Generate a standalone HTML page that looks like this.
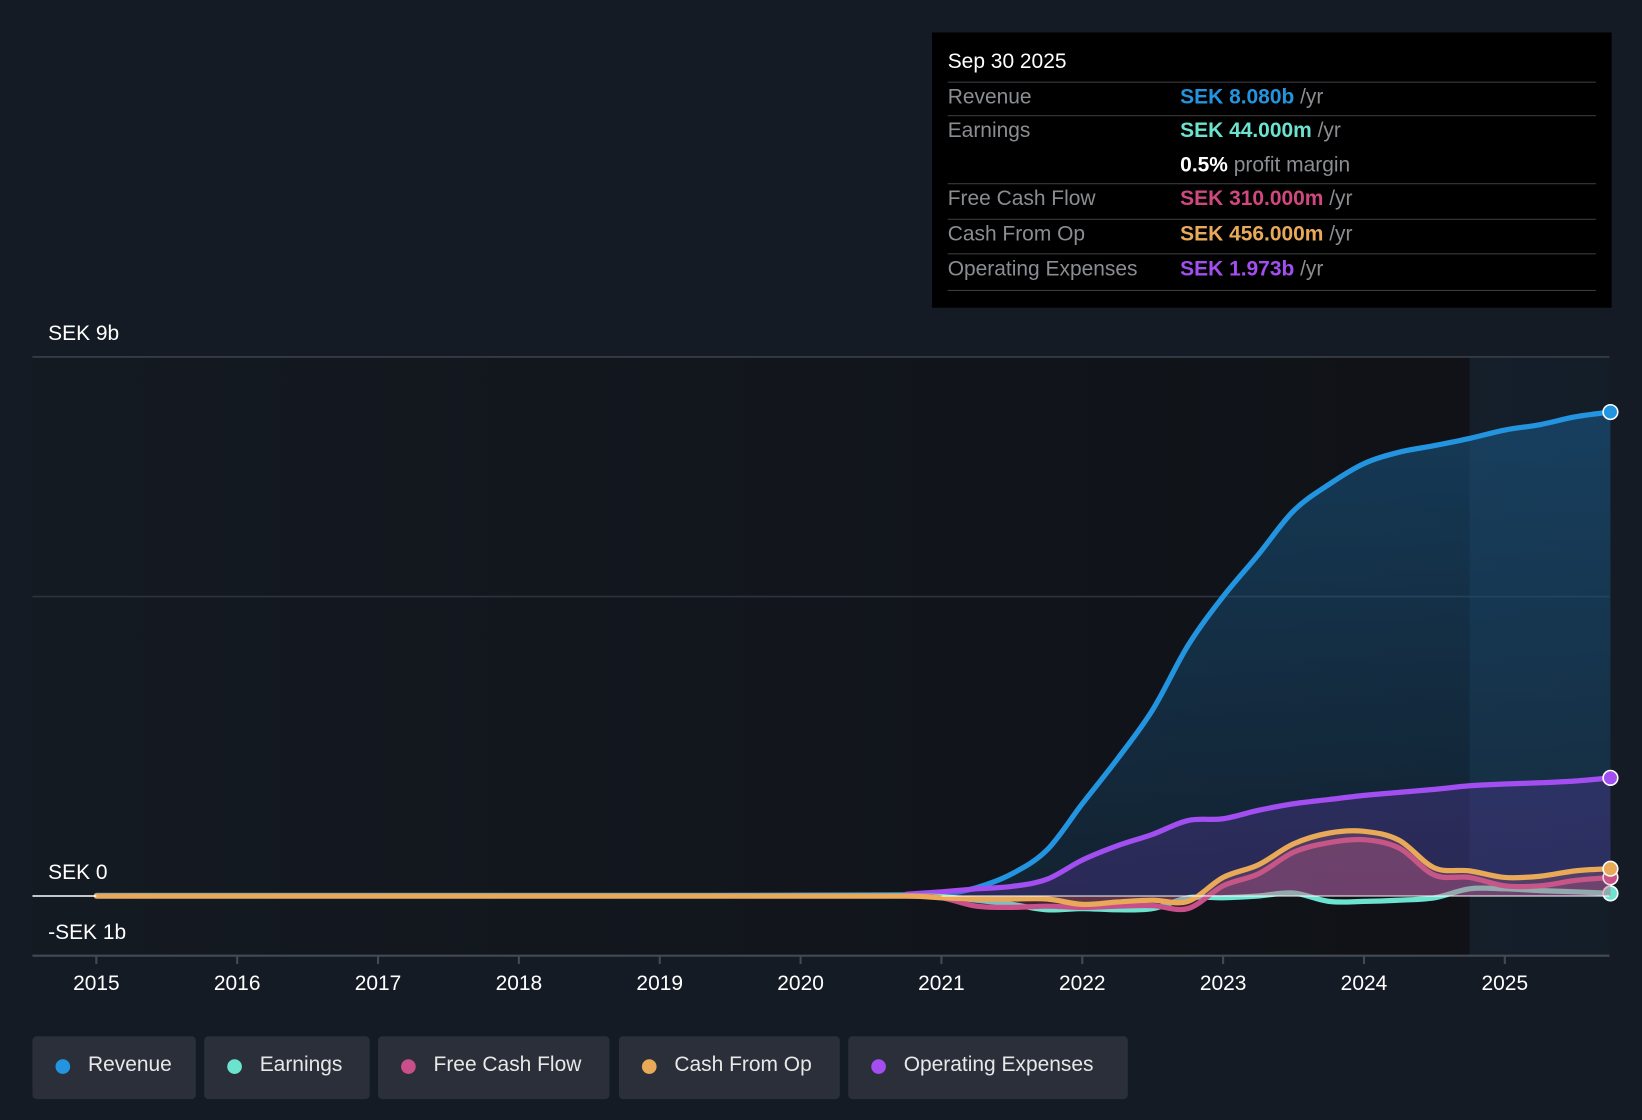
<!DOCTYPE html>
<html><head><meta charset="utf-8"><style>
html,body{margin:0;padding:0;background:#151b24;overflow:hidden}
#root{position:absolute;left:0;top:0;width:1568px;height:1070px;transform:scale(1.04719,1.04673);transform-origin:0 0;font-family:"Liberation Sans",sans-serif;background:#151b24}
.tt{position:absolute;left:890px;top:31px;width:649px;height:263px;background:#000}
.tt .d{position:absolute;left:15px;top:17px;color:#fff;font-size:20px}
.row{position:absolute;left:15px;width:619px;border-top:1.5px solid #3a3d42;height:32px;font-size:20px}
.row .l{position:absolute;left:0;top:3px;color:#8a8d91}
.row .v{position:absolute;left:222px;top:3px;color:#8a8d91}
.leg{position:absolute;top:990px;height:60px;background:#2a2f39;border-radius:4px;color:#e8e8e8;font-size:20px}
.leg .dot{position:absolute;left:22px;top:22px;width:14px;height:14px;border-radius:50%}
.leg span.t{position:absolute;left:53px;top:16px}
</style></head><body>
<div id="root">
<svg id="chart" width="1568" height="1070" style="position:absolute;left:0;top:0"></svg>
<div class="tt">
 <div class="d">Sep 30 2025</div>
 <div class="row" style="top:47px"><span class="l">Revenue</span><span class="v"><b style="color:#2394df;font-weight:600">SEK 8.080b</b> /yr</span></div>
 <div class="row" style="top:79px"><span class="l">Earnings</span><span class="v"><b style="color:#6ce3cf;font-weight:600">SEK 44.000m</b> /yr</span><span class="v" style="top:36px"><b style="color:#fff;font-weight:600">0.5%</b> profit margin</span></div>
 <div class="row" style="top:144px"><span class="l">Free Cash Flow</span><span class="v"><b style="color:#d0487f;font-weight:600">SEK 310.000m</b> /yr</span></div>
 <div class="row" style="top:178px"><span class="l">Cash From Op</span><span class="v"><b style="color:#e8a958;font-weight:600">SEK 456.000m</b> /yr</span></div>
 <div class="row" style="top:211px;height:34px;border-bottom:1.5px solid #3a3d42"><span class="l">Operating Expenses</span><span class="v"><b style="color:#a24ef0;font-weight:600">SEK 1.973b</b> /yr</span></div>
</div>
<div class="leg" style="left:31px;width:156px"><div class="dot" style="background:#2394df"></div><span class="t">Revenue</span></div>
<div class="leg" style="left:195px;width:158px"><div class="dot" style="background:#6ce3cf"></div><span class="t">Earnings</span></div>
<div class="leg" style="left:361px;width:221px"><div class="dot" style="background:#c94f8a"></div><span class="t">Free Cash Flow</span></div>
<div class="leg" style="left:591px;width:211px"><div class="dot" style="background:#e8a958"></div><span class="t">Cash From Op</span></div>
<div class="leg" style="left:810px;width:267px"><div class="dot" style="background:#a24ef0"></div><span class="t">Operating Expenses</span></div>
</div>
<script>
const years=[2015,2016,2017,2018,2019,2020,2020.75,2021,2021.25,2021.5,2021.75,2022,2022.25,2022.5,2022.75,2023,2023.25,2023.5,2023.75,2024,2024.25,2024.5,2024.75,2025,2025.25,2025.5,2025.75];
const revenue=[0.01,0.01,0.01,0.01,0.01,0.015,0.02,0.02,0.14,0.37,0.77,1.54,2.29,3.11,4.18,5.0,5.7,6.43,6.87,7.22,7.41,7.52,7.64,7.78,7.87,8.0,8.08];
const earnings=[0,0,0,0,0,0,0,-0.01,-0.07,-0.14,-0.23,-0.21,-0.23,-0.21,-0.03,-0.03,0,0.05,-0.09,-0.09,-0.07,-0.03,0.12,0.12,0.09,0.07,0.044];
const fcf=[0,0,0,0,0,0,0,-0.03,-0.17,-0.19,-0.17,-0.19,-0.17,-0.16,-0.21,0.17,0.37,0.73,0.89,0.94,0.8,0.35,0.31,0.17,0.17,0.26,0.31];
const cfo=[0,0,0,0,0,0,0,-0.03,-0.05,-0.05,-0.05,-0.14,-0.1,-0.07,-0.09,0.31,0.52,0.87,1.05,1.08,0.93,0.47,0.42,0.31,0.33,0.42,0.456];
const opexYears=years.slice(6);
const opex=[0.03,0.07,0.12,0.16,0.28,0.6,0.84,1.03,1.26,1.29,1.43,1.54,1.61,1.68,1.73,1.78,1.84,1.87,1.89,1.92,1.973];
const xTicks=[2015,2016,2017,2018,2019,2020,2021,2022,2023,2024,2025];
const yTickVals=[9,0,-1];
const yTickLabels=["SEK 9b","SEK 0","-SEK 1b"];
const gridVals=[9,5];
const NS="http://www.w3.org/2000/svg";
const svg=document.getElementById('chart');
const X=v=>92+(v-2015)*134.5;
const Y=v=>856-v*57.22;
function el(t,a,p){const e=document.createElementNS(NS,t);for(const k in a)e.setAttribute(k,a[k]);(p||svg).appendChild(e);return e;}
svg.innerHTML='<defs><linearGradient id="past" x1="0" x2="1"><stop offset="0" stop-color="#141a22"/><stop offset="1" stop-color="#0f1116"/></linearGradient><linearGradient id="rg" x1="0" y1="0" x2="0" y2="1"><stop offset="0" stop-color="#1a5a8a" stop-opacity="0.55"/><stop offset="1" stop-color="#1a5a8a" stop-opacity="0.2"/></linearGradient></defs>';
const bg=el('rect',{x:31,y:341,width:1506,height:572,fill:'url(#past)'});

const fc=el('rect',{x:X(2024.75),y:341,width:1537-X(2024.75),height:572,fill:'#1a2a3b',opacity:0.55});

gridVals.forEach(v=>{
 const g=el('line',{x1:31,x2:1537,y1:Y(v),y2:Y(v),stroke:v===9?'#3a3f48':'#2e333b','stroke-width':1.5});
 
});
yTickVals.forEach((v,i)=>{
 const t=el('text',{x:46,y:Y(v)-16,fill:'#fff','font-size':20,'font-family':'Liberation Sans, sans-serif'});
 t.textContent=yTickLabels[i];
 
});
const ax=el('line',{x1:31,x2:1537,y1:913,y2:913,stroke:'#444a53','stroke-width':2});

xTicks.forEach(v=>{
 const tk=el('line',{x1:X(v),x2:X(v),y1:913,y2:921,stroke:'#444a53','stroke-width':2});
 
 const t=el('text',{x:X(v),y:946,fill:'#fff','font-size':20,'text-anchor':'middle','font-family':'Liberation Sans, sans-serif'});
 t.textContent=v;
 
});
function pts(xs,ys){return xs.map((x,i)=>[X(x),Y(ys[i])]);}
function path(p){let d='M'+p[0][0]+','+p[0][1];for(let i=0;i<p.length-1;i++){const p0=p[i-1]||p[i],p1=p[i],p2=p[i+1],p3=p[i+2]||p2;const c1=[p1[0]+(p2[0]-p0[0])/6,p1[1]+(p2[1]-p0[1])/6],c2=[p2[0]-(p3[0]-p1[0])/6,p2[1]-(p3[1]-p1[1])/6];d+=' C'+c1+' '+c2+' '+p2;}return d;}
function series(name,xs,ys,color,fill,fo){
 const p=pts(xs,ys),d=path(p);
 if(fill){const a=el('path',{d:d+' L'+p[p.length-1][0]+','+Y(0)+' L'+p[0][0]+','+Y(0)+'Z',fill:fill,opacity:fo});}
 const l=el('path',{d:d,fill:'none',stroke:color,'stroke-width':5,'stroke-linejoin':'round','stroke-linecap':'round'});
 
 const e=p[p.length-1];const c=el('circle',{cx:e[0],cy:e[1],r:7,fill:color,stroke:'#fff','stroke-width':1.5});
 
}
series('revenue',years,revenue,'#2394df','url(#rg)',1);
series('opex',opexYears,opex,'#a24ef0','#5a3aa0',0.35);
series('earnings',years,earnings,'#6ce3cf',null,0);
series('fcf',years,fcf,'#c94f8a','#c94f8a',0.25);
series('cfo',years,cfo,'#e8a958','#c06a80',0.25);
const zl=el('line',{x1:31,x2:92,y1:Y(0),y2:Y(0),stroke:'#fff','stroke-width':1.5});

const zl2=el('line',{x1:X(2021),x2:1537,y1:Y(0),y2:Y(0),stroke:'#fff','stroke-width':1.2,opacity:0.8});

</script>
</body></html>
